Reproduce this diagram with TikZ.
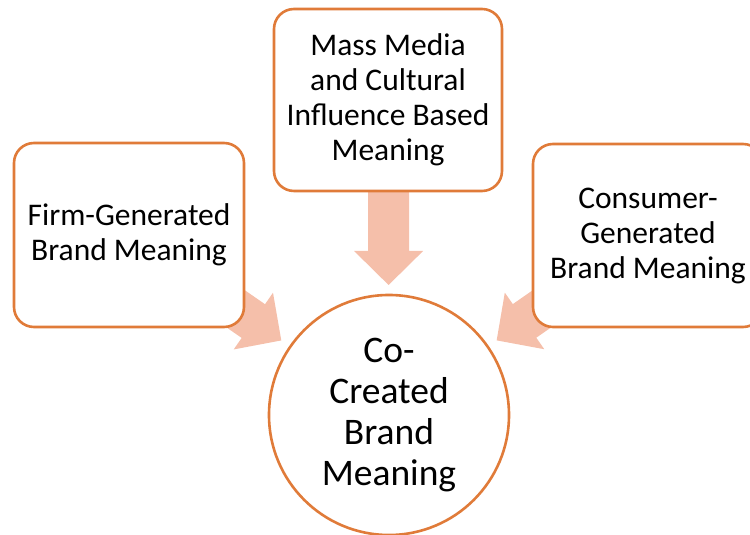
\documentclass[tikz,border=0pt]{standalone}
\usepackage{fontspec}
\setmainfont{Carlito}
\usetikzlibrary{calc}
\definecolor{edge}{HTML}{E07B39}
\definecolor{arrowfill}{HTML}{F5BFAA}
\tikzset{
  box/.style={draw=edge, line width=2.6pt, fill=white, rounded corners=20pt,
    align=center, inner sep=0pt, font=\fontsize{31.5}{35}\selectfont},
  hub/.style={draw=edge, line width=2.6pt, fill=white, circle, minimum size=240pt,
    align=center, inner sep=0pt, font=\fontsize{37.5}{41}\selectfont},
  blockarrow/.style={fill=arrowfill}
}
% block arrow pointing along +x with its tip at the origin
\newcommand{\blockarrowpath}{(0,0) -- (-34,34.5) -- (-34,20.5) -- (-185,20.5)
  -- (-185,-20.5) -- (-34,-20.5) -- (-34,-34.5) -- cycle}
\begin{document}
\begin{tikzpicture}[x=1pt,y=1pt]
\useasboundingbox (0,0) rectangle (750,535);
\clip (0,0) rectangle (750,535);
% node positions
\coordinate (firmc) at (129,300);
\coordinate (mediac) at (388,435);
\coordinate (consc) at (648,299.5);
\coordinate (coc) at (389,120);
% arrow tips, a fixed distance from the central circle
\coordinate (tipL) at ($(coc)!131pt!(firmc)$);
\coordinate (tipT) at ($(coc)!130pt!(mediac)$);
\coordinate (tipR) at ($(coc)!131pt!(consc)$);
% block arrows behind the boxes
\begin{scope}[shift={(tipL)}, rotate=-34.7]
  \fill[blockarrow] \blockarrowpath;
\end{scope}
\begin{scope}[shift={(tipT)}, rotate=-90]
  \fill[blockarrow] \blockarrowpath;
\end{scope}
\begin{scope}[shift={(tipR)}, rotate=-145.1]
  \fill[blockarrow] \blockarrowpath;
\end{scope}
% boxes and hub
\node[box, minimum width=230pt, minimum height=184pt] (firm) at (firmc)
  {Firm-Generated\\Brand Meaning};
\node[box, minimum width=228pt, minimum height=182pt] (media) at (mediac)
  {Mass Media\\and Cultural\\Influence Based\\Meaning};
\node[box, minimum width=230pt, minimum height=183pt] (cons) at (consc)
  {Consumer-\\Generated\\Brand Meaning};
\node[hub] (co) at (coc) {Co-\\Created\\Brand\\Meaning};
\end{tikzpicture}
\end{document}
